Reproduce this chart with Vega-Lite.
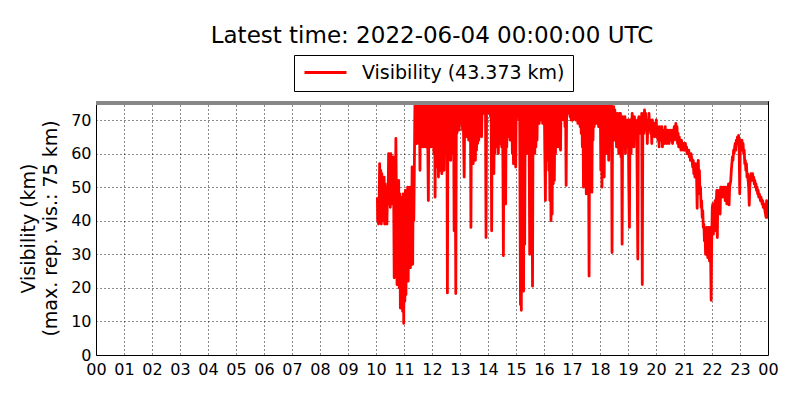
{
  "$schema": "https://vega.github.io/schema/vega-lite/v6.json",
  "width": 672,
  "height": 254,
  "autosize": {"type": "none"},
  "padding": {"left": 96, "top": 101, "right": 32, "bottom": 45},
  "background": "white",
  "title": {"text": "Latest time: 2022-06-04 00:00:00 UTC", "fontSize": 23, "font": "DejaVu Sans", "fontWeight": "normal", "color": "black", "anchor": "middle", "offset": 7},
  "config": {
    "font": "DejaVu Sans",
    "view": {"stroke": "black", "strokeWidth": 1},
    "axis": {"labelFont": "DejaVu Sans", "labelFontSize": 16, "labelColor": "black", "titleFont": "DejaVu Sans", "titleFontSize": 19, "titleFontWeight": "normal", "titleColor": "black", "domain": false, "ticks": false, "grid": true, "gridColor": "black", "gridDash": [1, 3], "gridWidth": 1, "gridOpacity": 0.9}
  },
  "data": {"values": [
{"h":10.05,"v":47},{"h":10.06,"v":40},{"h":10.07,"v":46},{"h":10.09,"v":39},{"h":10.11,"v":45},{"h":10.13,"v":57},{"h":10.15,"v":44},{"h":10.17,"v":55},{"h":10.19,"v":39},{"h":10.21,"v":54},{"h":10.23,"v":42},{"h":10.25,"v":52},{"h":10.27,"v":40},{"h":10.29,"v":53},{"h":10.31,"v":39},{"h":10.33,"v":51},{"h":10.35,"v":41},{"h":10.37,"v":50},{"h":10.39,"v":39},{"h":10.41,"v":49},{"h":10.43,"v":45},{"h":10.45,"v":60},{"h":10.47,"v":46},{"h":10.49,"v":59},{"h":10.51,"v":44},{"h":10.53,"v":60},{"h":10.55,"v":48},{"h":10.57,"v":57},{"h":10.59,"v":45},{"h":10.61,"v":59},{"h":10.63,"v":50},{"h":10.65,"v":23},{"h":10.67,"v":52},{"h":10.69,"v":40},{"h":10.71,"v":64.5},{"h":10.73,"v":46},{"h":10.75,"v":21},{"h":10.77,"v":50},{"h":10.79,"v":44},{"h":10.81,"v":52},{"h":10.83,"v":20},{"h":10.85,"v":48},{"h":10.87,"v":14},{"h":10.89,"v":47},{"h":10.91,"v":25},{"h":10.93,"v":46},{"h":10.95,"v":13},{"h":10.97,"v":48},{"h":10.99,"v":9.4},{"h":11.01,"v":47},{"h":11.03,"v":16},{"h":11.05,"v":49},{"h":11.07,"v":18},{"h":11.09,"v":48},{"h":11.11,"v":23},{"h":11.13,"v":50},{"h":11.15,"v":22},{"h":11.17,"v":49},{"h":11.19,"v":30},{"h":11.21,"v":50},{"h":11.23,"v":26},{"h":11.25,"v":50},{"h":11.27,"v":33},{"h":11.29,"v":56},{"h":11.31,"v":27},{"h":11.33,"v":56},{"h":11.35,"v":40},{"h":11.37,"v":56},
{"h":11.39,"v":75},{"h":11.41,"v":64},{"h":11.43,"v":75},{"h":11.45,"v":63},{"h":11.47,"v":75},{"h":11.49,"v":66},{"h":11.51,"v":75},{"h":11.53,"v":63},{"h":11.55,"v":75},{"h":11.57,"v":55},{"h":11.59,"v":75},{"h":11.61,"v":62},{"h":11.63,"v":75},{"h":11.65,"v":64},{"h":11.67,"v":75},{"h":11.69,"v":62},{"h":11.71,"v":75},{"h":11.73,"v":65},{"h":11.75,"v":75},{"h":11.77,"v":62},{"h":11.79,"v":75},{"h":11.81,"v":63},{"h":11.83,"v":75},{"h":11.85,"v":62},{"h":11.87,"v":46},{"h":11.89,"v":75},{"h":11.91,"v":63},{"h":11.93,"v":75},{"h":11.95,"v":62},{"h":11.97,"v":75},{"h":11.99,"v":66},{"h":12.01,"v":75},{"h":12.03,"v":62},{"h":12.05,"v":75},{"h":12.07,"v":60},{"h":12.09,"v":75},{"h":12.11,"v":47},{"h":12.13,"v":75},{"h":12.15,"v":60},{"h":12.17,"v":75},{"h":12.19,"v":56},{"h":12.21,"v":75},{"h":12.23,"v":53},{"h":12.25,"v":75},{"h":12.27,"v":55},{"h":12.29,"v":75},{"h":12.31,"v":57},{"h":12.33,"v":75},{"h":12.35,"v":54},{"h":12.37,"v":75},{"h":12.39,"v":60},{"h":12.41,"v":75},{"h":12.43,"v":55},{"h":12.45,"v":75},{"h":12.47,"v":60},{"h":12.49,"v":75},{"h":12.51,"v":65},{"h":12.53,"v":75},{"h":12.55,"v":18.5},{"h":12.57,"v":75},{"h":12.59,"v":58},{"h":12.61,"v":75},{"h":12.63,"v":60},{"h":12.65,"v":75},{"h":12.67,"v":58},{"h":12.69,"v":75},{"h":12.71,"v":62},{"h":12.73,"v":75},{"h":12.75,"v":60},{"h":12.77,"v":75},{"h":12.79,"v":37},{"h":12.81,"v":75},{"h":12.83,"v":60},{"h":12.85,"v":18.3},{"h":12.87,"v":75},{"h":12.89,"v":66},{"h":12.91,"v":75},{"h":12.93,"v":68},{"h":12.95,"v":75},{"h":12.97,"v":67},{"h":12.99,"v":75},{"h":13.01,"v":70},{"h":13.03,"v":75},{"h":13.05,"v":69},{"h":13.07,"v":75},{"h":13.09,"v":67},{"h":13.11,"v":75},{"h":13.13,"v":64},{"h":13.15,"v":53},{"h":13.17,"v":75},{"h":13.19,"v":66},{"h":13.21,"v":75},{"h":13.23,"v":65},{"h":13.25,"v":75},{"h":13.27,"v":67},{"h":13.29,"v":75},{"h":13.31,"v":64},{"h":13.33,"v":75},{"h":13.35,"v":66},{"h":13.37,"v":75},{"h":13.39,"v":38},{"h":13.41,"v":75},{"h":13.43,"v":58},{"h":13.45,"v":75},{"h":13.47,"v":57},{"h":13.49,"v":75},{"h":13.51,"v":60},{"h":13.53,"v":75},{"h":13.55,"v":58},{"h":13.57,"v":75},{"h":13.59,"v":61},{"h":13.61,"v":75},{"h":13.63,"v":63},{"h":13.65,"v":75},{"h":13.67,"v":64},{"h":13.69,"v":72},{"h":13.71,"v":75},{"h":13.73,"v":72},{"h":13.75,"v":75},{"h":13.77,"v":65},{"h":13.79,"v":74},{"h":13.81,"v":73},{"h":13.83,"v":75},{"h":13.85,"v":72},{"h":13.87,"v":75},{"h":13.89,"v":73},{"h":13.91,"v":75},{"h":13.93,"v":35},{"h":13.95,"v":75},{"h":13.97,"v":72},{"h":13.99,"v":75},{"h":14.01,"v":74},{"h":14.03,"v":75},{"h":14.05,"v":72},{"h":14.07,"v":75},{"h":14.09,"v":71},{"h":14.11,"v":75},{"h":14.13,"v":37},{"h":14.15,"v":75},{"h":14.17,"v":58},{"h":14.19,"v":75},{"h":14.21,"v":54},{"h":14.23,"v":75},{"h":14.25,"v":60},{"h":14.27,"v":75},{"h":14.29,"v":62},{"h":14.31,"v":75},{"h":14.33,"v":64},{"h":14.35,"v":75},{"h":14.37,"v":60},{"h":14.39,"v":75},{"h":14.41,"v":66},{"h":14.43,"v":75},{"h":14.45,"v":63},{"h":14.47,"v":75},{"h":14.49,"v":62},{"h":14.51,"v":75},{"h":14.53,"v":60},{"h":14.55,"v":29.6},{"h":14.57,"v":75},{"h":14.59,"v":58},{"h":14.61,"v":75},{"h":14.63,"v":45},{"h":14.65,"v":75},{"h":14.67,"v":62},{"h":14.69,"v":75},{"h":14.71,"v":65},{"h":14.73,"v":75},{"h":14.75,"v":66},{"h":14.77,"v":75},{"h":14.79,"v":64},{"h":14.81,"v":75},{"h":14.83,"v":67},{"h":14.85,"v":75},{"h":14.87,"v":60},{"h":14.89,"v":75},{"h":14.91,"v":57},{"h":14.93,"v":75},{"h":14.95,"v":58},{"h":14.97,"v":75},{"h":14.99,"v":56},{"h":15.01,"v":75},{"h":15.03,"v":74},{"h":15.05,"v":75},{"h":15.07,"v":72},{"h":15.09,"v":75},{"h":15.11,"v":70},{"h":15.13,"v":75},{"h":15.16,"v":15},{"h":15.17,"v":60},{"h":15.19,"v":13.3},{"h":15.21,"v":75},{"h":15.23,"v":68},{"h":15.25,"v":75},{"h":15.27,"v":19},{"h":15.29,"v":75},{"h":15.31,"v":33},{"h":15.33,"v":75},{"h":15.35,"v":62},{"h":15.37,"v":75},{"h":15.39,"v":60},{"h":15.41,"v":75},{"h":15.43,"v":62},{"h":15.45,"v":75},{"h":15.47,"v":63},{"h":15.49,"v":30},{"h":15.51,"v":75},{"h":15.53,"v":63},{"h":15.55,"v":75},{"h":15.57,"v":62},{"h":15.59,"v":20.5},{"h":15.61,"v":75},{"h":15.63,"v":64},{"h":15.65,"v":75},{"h":15.67,"v":60},{"h":15.69,"v":75},{"h":15.71,"v":62},{"h":15.73,"v":75},{"h":15.75,"v":64},{"h":15.77,"v":75},{"h":15.79,"v":70},{"h":15.81,"v":75},{"h":15.83,"v":69},{"h":15.85,"v":75},{"h":15.87,"v":70},{"h":15.89,"v":75},{"h":15.91,"v":71},{"h":15.93,"v":75},{"h":15.95,"v":69},{"h":15.97,"v":75},{"h":15.99,"v":70},{"h":16.01,"v":75},{"h":16.03,"v":60},{"h":16.05,"v":46},{"h":16.07,"v":75},{"h":16.09,"v":62},{"h":16.11,"v":75},{"h":16.13,"v":58},{"h":16.15,"v":75},{"h":16.17,"v":55},{"h":16.19,"v":75},{"h":16.21,"v":46},{"h":16.23,"v":75},{"h":16.25,"v":40},{"h":16.27,"v":75},{"h":16.29,"v":42},{"h":16.31,"v":75},{"h":16.33,"v":51},{"h":16.35,"v":75},{"h":16.37,"v":52},{"h":16.39,"v":75},{"h":16.41,"v":60},{"h":16.43,"v":75},{"h":16.45,"v":62},{"h":16.47,"v":75},{"h":16.49,"v":66},{"h":16.51,"v":75},{"h":16.53,"v":62},{"h":16.55,"v":75},{"h":16.57,"v":68},{"h":16.59,"v":61},{"h":16.61,"v":75},{"h":16.63,"v":70},{"h":16.65,"v":75},{"h":16.67,"v":72},{"h":16.69,"v":75},{"h":16.71,"v":70},{"h":16.73,"v":75},{"h":16.75,"v":68},{"h":16.77,"v":75},{"h":16.79,"v":50.5},{"h":16.81,"v":75},{"h":16.83,"v":73},{"h":16.85,"v":75},{"h":16.87,"v":74},{"h":16.89,"v":72},{"h":16.91,"v":75},{"h":16.93,"v":71},{"h":16.95,"v":73},{"h":16.97,"v":70},{"h":16.99,"v":72},{"h":17.01,"v":75},{"h":17.03,"v":70},{"h":17.05,"v":75},{"h":17.07,"v":71},{"h":17.09,"v":75},{"h":17.11,"v":72},{"h":17.13,"v":70},{"h":17.15,"v":75},{"h":17.17,"v":72},{"h":17.19,"v":75},{"h":17.21,"v":69},{"h":17.23,"v":75},{"h":17.25,"v":70},{"h":17.27,"v":75},{"h":17.29,"v":68},{"h":17.31,"v":75},{"h":17.33,"v":66},{"h":17.35,"v":75},{"h":17.37,"v":62},{"h":17.39,"v":75},{"h":17.41,"v":50},{"h":17.43,"v":75},{"h":17.45,"v":60},{"h":17.47,"v":75},{"h":17.49,"v":61},{"h":17.51,"v":48},{"h":17.53,"v":75},{"h":17.55,"v":62},{"h":17.57,"v":75},{"h":17.59,"v":60},{"h":17.61,"v":23.5},{"h":17.63,"v":75},{"h":17.65,"v":66},{"h":17.67,"v":75},{"h":17.69,"v":50},{"h":17.71,"v":48.5},{"h":17.73,"v":75},{"h":17.75,"v":64},{"h":17.77,"v":75},{"h":17.79,"v":68},{"h":17.81,"v":75},{"h":17.83,"v":70},{"h":17.85,"v":75},{"h":17.87,"v":69},{"h":17.89,"v":75},{"h":17.91,"v":71},{"h":17.93,"v":75},{"h":17.95,"v":68},{"h":17.97,"v":75},{"h":17.99,"v":70},{"h":18.01,"v":75},{"h":18.03,"v":55},{"h":18.05,"v":75},{"h":18.07,"v":50},{"h":18.09,"v":75},{"h":18.11,"v":62},{"h":18.13,"v":75},{"h":18.15,"v":53},{"h":18.17,"v":75},{"h":18.19,"v":63},{"h":18.21,"v":75},{"h":18.23,"v":60},{"h":18.25,"v":75},{"h":18.27,"v":62},{"h":18.29,"v":75},{"h":18.31,"v":58},{"h":18.33,"v":75},{"h":18.35,"v":62},{"h":18.37,"v":75},{"h":18.39,"v":64},{"h":18.41,"v":75},{"h":18.43,"v":30.5},{"h":18.45,"v":74},{"h":18.47,"v":70},{"h":18.49,"v":74},{"h":18.51,"v":64},{"h":18.53,"v":73},{"h":18.55,"v":65},{"h":18.57,"v":71},{"h":18.59,"v":62},{"h":18.61,"v":72},{"h":18.63,"v":66},{"h":18.65,"v":71},{"h":18.67,"v":60},{"h":18.69,"v":72},{"h":18.71,"v":65},{"h":18.73,"v":72},{"h":18.75,"v":59},{"h":18.77,"v":70},{"h":18.79,"v":33},{"h":18.81,"v":71},{"h":18.83,"v":62},{"h":18.85,"v":70},{"h":18.87,"v":65},{"h":18.89,"v":71},{"h":18.91,"v":60},{"h":18.93,"v":70},{"h":18.95,"v":64},{"h":18.97,"v":69},{"h":18.99,"v":62},{"h":19.01,"v":70},{"h":19.03,"v":50},{"h":19.05,"v":38},{"h":19.07,"v":66},{"h":19.09,"v":70},{"h":19.11,"v":60},{"h":19.13,"v":68},{"h":19.15,"v":72},{"h":19.17,"v":65},{"h":19.19,"v":70},{"h":19.21,"v":62},{"h":19.23,"v":71},{"h":19.25,"v":66},{"h":19.27,"v":70},{"h":19.29,"v":65},{"h":19.31,"v":69},{"h":19.33,"v":50},{"h":19.35,"v":28.6},{"h":19.37,"v":70},{"h":19.39,"v":71},{"h":19.41,"v":66},{"h":19.43,"v":69},{"h":19.45,"v":70},{"h":19.47,"v":66},{"h":19.49,"v":72},{"h":19.51,"v":21},{"h":19.53,"v":70},{"h":19.55,"v":72},{"h":19.57,"v":66},{"h":19.59,"v":73},{"h":19.61,"v":68},{"h":19.63,"v":72},{"h":19.65,"v":67},{"h":19.67,"v":70},{"h":19.69,"v":63},{"h":19.71,"v":70},{"h":19.73,"v":68},{"h":19.75,"v":72},{"h":19.77,"v":67},{"h":19.79,"v":70},{"h":19.81,"v":66},{"h":19.83,"v":68},{"h":19.85,"v":63},{"h":19.87,"v":70},{"h":19.89,"v":68},{"h":19.91,"v":66},{"h":19.93,"v":69},{"h":19.95,"v":65},{"h":19.97,"v":68},{"h":19.99,"v":66},{"h":20.01,"v":70},{"h":20.03,"v":65},{"h":20.05,"v":68},{"h":20.07,"v":64},{"h":20.09,"v":67},{"h":20.11,"v":62},{"h":20.13,"v":68},{"h":20.15,"v":65},{"h":20.17,"v":67},{"h":20.19,"v":64},{"h":20.21,"v":68},{"h":20.23,"v":62},{"h":20.25,"v":67},{"h":20.27,"v":65},{"h":20.29,"v":67},{"h":20.31,"v":63},{"h":20.33,"v":68},{"h":20.35,"v":64},{"h":20.37,"v":66},{"h":20.39,"v":63},{"h":20.41,"v":67},{"h":20.43,"v":64},{"h":20.45,"v":66},{"h":20.47,"v":63},{"h":20.49,"v":67},{"h":20.51,"v":65},{"h":20.53,"v":66},{"h":20.55,"v":64},{"h":20.57,"v":67},{"h":20.59,"v":63},{"h":20.61,"v":66},{"h":20.63,"v":64},{"h":20.65,"v":68},{"h":20.67,"v":65},{"h":20.69,"v":67},{"h":20.71,"v":69},{"h":20.73,"v":64},{"h":20.75,"v":68},{"h":20.77,"v":63},{"h":20.79,"v":66},{"h":20.81,"v":62},{"h":20.83,"v":65},{"h":20.85,"v":63},{"h":20.87,"v":64},{"h":20.89,"v":61},{"h":20.91,"v":64},{"h":20.93,"v":62},{"h":20.95,"v":63},{"h":20.97,"v":61},{"h":20.99,"v":63},{"h":21.01,"v":62},{"h":21.03,"v":61},{"h":21.05,"v":63},{"h":21.07,"v":61},{"h":21.09,"v":62},{"h":21.11,"v":60},{"h":21.13,"v":61},{"h":21.15,"v":60},{"h":21.17,"v":61},{"h":21.19,"v":59},{"h":21.21,"v":60},{"h":21.23,"v":58},{"h":21.25,"v":60},{"h":21.27,"v":59},{"h":21.29,"v":58},{"h":21.31,"v":56},{"h":21.33,"v":58},{"h":21.35,"v":54},{"h":21.37,"v":57},{"h":21.39,"v":53},{"h":21.41,"v":57},{"h":21.43,"v":55},{"h":21.45,"v":53},{"h":21.47,"v":43.7},{"h":21.49,"v":56},{"h":21.51,"v":58},{"h":21.53,"v":52},{"h":21.55,"v":55},{"h":21.57,"v":48},{"h":21.59,"v":50},{"h":21.61,"v":44},{"h":21.63,"v":46},{"h":21.65,"v":41},{"h":21.67,"v":43},{"h":21.69,"v":38},{"h":21.71,"v":39},{"h":21.73,"v":34},{"h":21.75,"v":37},{"h":21.77,"v":30},{"h":21.79,"v":35},{"h":21.81,"v":38},{"h":21.83,"v":31},{"h":21.85,"v":29},{"h":21.87,"v":38},{"h":21.89,"v":32},{"h":21.91,"v":28},{"h":21.93,"v":38},{"h":21.95,"v":30},{"h":21.97,"v":16.3},{"h":21.99,"v":34},{"h":22.01,"v":44},{"h":22.03,"v":45},{"h":22.05,"v":36},{"h":22.07,"v":45},{"h":22.09,"v":44},{"h":22.11,"v":46},{"h":22.13,"v":37},{"h":22.15,"v":45},{"h":22.17,"v":49},{"h":22.19,"v":35},{"h":22.21,"v":49},{"h":22.23,"v":48},{"h":22.25,"v":45},{"h":22.27,"v":49},{"h":22.29,"v":42},{"h":22.31,"v":50},{"h":22.33,"v":48},{"h":22.35,"v":50},{"h":22.37,"v":47},{"h":22.39,"v":49},{"h":22.41,"v":50},{"h":22.43,"v":48},{"h":22.45,"v":50},{"h":22.47,"v":46},{"h":22.49,"v":49},{"h":22.51,"v":50},{"h":22.53,"v":45},{"h":22.55,"v":50},{"h":22.57,"v":48},{"h":22.59,"v":51},{"h":22.61,"v":44.7},{"h":22.63,"v":50},{"h":22.65,"v":51},{"h":22.67,"v":52},{"h":22.69,"v":55},{"h":22.71,"v":57},{"h":22.73,"v":59},{"h":22.75,"v":58},{"h":22.77,"v":61},{"h":22.79,"v":60},{"h":22.81,"v":62},{"h":22.83,"v":63},{"h":22.85,"v":61},{"h":22.87,"v":64},{"h":22.89,"v":63},{"h":22.91,"v":65},{"h":22.93,"v":64},{"h":22.95,"v":65.4},{"h":22.97,"v":62},{"h":22.99,"v":48},{"h":23.01,"v":63},{"h":23.03,"v":64},{"h":23.05,"v":62},{"h":23.07,"v":64},{"h":23.09,"v":61},{"h":23.11,"v":63},{"h":23.13,"v":60},{"h":23.15,"v":61},{"h":23.17,"v":57},{"h":23.19,"v":58},{"h":23.21,"v":55},{"h":23.23,"v":57},{"h":23.25,"v":53},{"h":23.27,"v":54},{"h":23.29,"v":52},{"h":23.31,"v":50},{"h":23.33,"v":44.6},{"h":23.35,"v":50},{"h":23.37,"v":53},{"h":23.39,"v":54},{"h":23.41,"v":53},{"h":23.43,"v":52},{"h":23.45,"v":54},{"h":23.47,"v":52},{"h":23.49,"v":53},{"h":23.51,"v":51},{"h":23.53,"v":52},{"h":23.55,"v":50},{"h":23.57,"v":51},{"h":23.59,"v":49},{"h":23.61,"v":50},{"h":23.63,"v":48},{"h":23.65,"v":49},{"h":23.67,"v":47},{"h":23.69,"v":48},{"h":23.71,"v":47},{"h":23.73,"v":46},{"h":23.75,"v":47},{"h":23.77,"v":46},{"h":23.79,"v":45},{"h":23.81,"v":46},{"h":23.83,"v":44},{"h":23.85,"v":45},{"h":23.87,"v":44},{"h":23.89,"v":43},{"h":23.91,"v":42},{"h":23.93,"v":41},{"h":23.95,"v":46},{"h":23.97,"v":44},{"h":23.99,"v":41},{"h":24.0,"v":43.37}
  ]},
  "layer": [
    {
      "mark": {"type": "line", "strokeWidth": 2.8, "strokeJoin": "round", "clip": true},
      "encoding": {
        "x": {"field": "h", "type": "quantitative", "scale": {"domain": [0, 24], "nice": false, "zero": false},
          "axis": {"title": null, "values": [0,1,2,3,4,5,6,7,8,9,10,11,12,13,14,15,16,17,18,19,20,21,22,23,24], "labelExpr": "(datum.value % 24 < 10 ? '0' : '') + (datum.value % 24)", "labelPadding": 6, "labelOverlap": false, "labelFlush": false, "labelBound": false}},
        "y": {"field": "v", "type": "quantitative", "scale": {"domain": [0, 75.66], "nice": false},
          "axis": {"title": ["Visibility (km)", "(max. rep. vis.: 75 km)"], "titleLineHeight": 22, "titlePadding": 10, "values": [0,10,20,30,40,50,60,70], "labelPadding": 5, "labelOverlap": false, "labelFlush": false, "labelBound": false}},
        "color": {"datum": "Visibility (43.373 km)", "type": "nominal", "scale": {"range": ["#ff0000"]},
          "legend": {"orient": "none", "legendX": 198, "legendY": -46, "title": null, "symbolType": "M-1,0H5", "symbolSize": 196, "symbolStrokeWidth": 3, "labelFontSize": 19, "labelFont": "DejaVu Sans", "labelColor": "black", "padding": 8, "strokeColor": "black", "fillColor": "white", "labelOffset": 41, "labelLimit": 400}}
      }
    },
    {
      "mark": {"type": "rule", "color": "#888888", "strokeWidth": 3},
      "encoding": {"y": {"datum": 75, "type": "quantitative",
        "axis": {"title": ["Visibility (km)", "(max. rep. vis.: 75 km)"], "titleLineHeight": 22, "titlePadding": 10, "values": [0,10,20,30,40,50,60,70], "labelPadding": 5, "labelOverlap": false, "labelFlush": false, "labelBound": false}}}
    }
  ]
}
